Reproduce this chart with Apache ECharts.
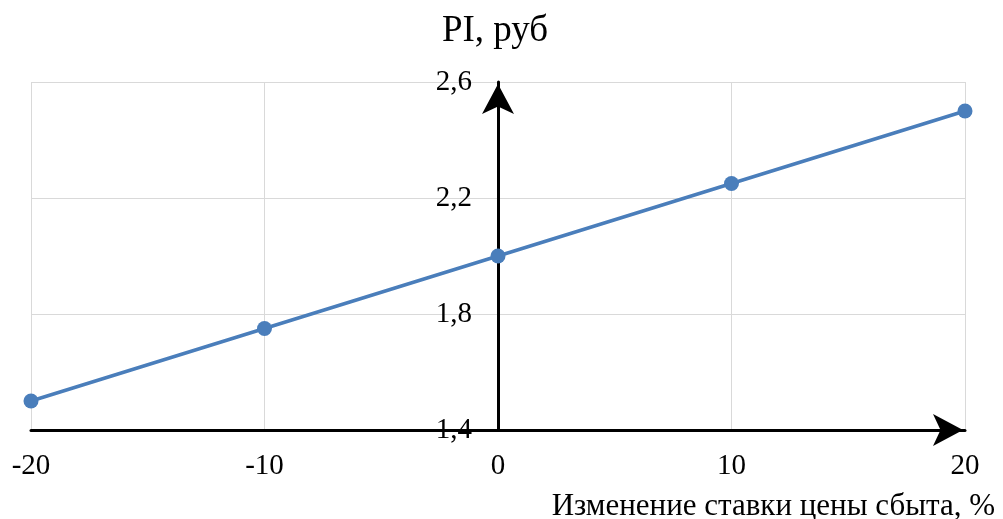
<!DOCTYPE html>
<html>
<head>
<meta charset="utf-8">
<script src="https://cdn.jsdelivr.net/npm/echarts@6/dist/echarts.min.js"></script>
<style>html,body{margin:0;padding:0;background:#fff}#c{width:1003px;height:519px}</style>
</head>
<body>
<div id="c"></div>
<script>
const xValues = [-20, -10, 0, 10, 20];
const piValues = [1.5, 1.75, 2.0, 2.25, 2.5];
const yAxisTitle = 'PI, руб';
const xAxisTitle = 'Изменение ставки цены сбыта, %';

const FONT = '"Liberation Serif", "Times New Roman", serif';
const chart = echarts.init(document.getElementById('c'));
const fmt = v => v.toFixed(1).replace('.', ',');
chart.setOption({
  animation: false,
  backgroundColor: '#fff',
  grid: {left: 31, right: 38, top: 82, bottom: 89, containLabel: false, outerBoundsMode: 'none'},
  title: {
    text: xAxisTitle, right: 3, top: 486,
    textStyle: {fontFamily: FONT, fontSize: 31, fontWeight: 'normal', color: '#000'}
  },
  xAxis: {
    type: 'value', min: -20, max: 20, interval: 10,
    axisLine: {show: true, onZero: false, symbol: ['none', 'arrow'], symbolSize: [24, 30], symbolOffset: [0, -2],
      lineStyle: {color: '#000', width: 3}},
    axisTick: {show: false},
    axisLabel: {fontFamily: FONT, fontSize: 29, color: '#000', margin: 22},
    splitLine: {show: true, lineStyle: {color: '#d9d9d9', width: 1}}
  },
  yAxis: {
    type: 'value', min: 1.4, max: 2.6, interval: 0.4,
    position: 'left', offset: -467,
    name: yAxisTitle, nameLocation: 'end', nameGap: 32,
    nameTextStyle: {fontFamily: FONT, fontSize: 37, color: '#000', align: 'center', padding: [0, 6, 0, 0]},
    axisLine: {show: true, onZero: false, symbol: ['none', 'arrow'], symbolSize: [24, 30], symbolOffset: [0, -2],
      lineStyle: {color: '#000', width: 3}},
    axisTick: {show: false},
    axisLabel: {fontFamily: FONT, fontSize: 29, color: '#000', margin: 26, formatter: fmt},
    splitLine: {show: true, lineStyle: {color: '#d9d9d9', width: 1}}
  },
  series: [{
    type: 'line',
    data: xValues.map((x, i) => [x, piValues[i]]),
    symbol: 'circle', symbolSize: 15,
    lineStyle: {color: '#4a7ebb', width: 3.5},
    itemStyle: {color: '#4a7ebb'},
    z: 1
  }]
});
</script>
</body>
</html>
